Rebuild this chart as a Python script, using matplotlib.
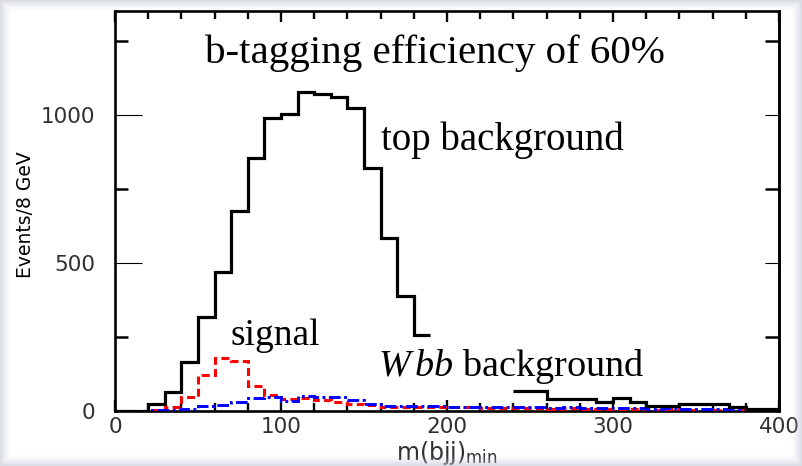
import numpy as np
import matplotlib
matplotlib.use("Agg")
import matplotlib.pyplot as plt
from matplotlib.ticker import FixedLocator, MultipleLocator

nan = np.nan

# Histogram binning in m(bjj)_min [GeV]
bin_edges = np.arange(0, 401, 10)

# Event counts per bin
top_background = [0, 0, 22, 64, 165, 318, 469, 676, 853, 990,
                  1003, 1078, 1072, 1060, 1023, 820, 585, 387, 257, nan,
                  nan, nan, nan, nan, 68, 68, 42, 40, 40, 29,
                  45, 30, 16, 16, 22, 22, 22, 15, 8, 8]
signal = [0, 0, 3, 12, 47, 120, 180, 168, 86, 53,
          40, 45, 38, 32, 25, 19, 14, 14, 15, 13,
          12, 13, 10, 11, 9, 10, 8, 9, 7, 8,
          6, 7, 5, 6, 5, 5, 4, 4, 3, 3]
wbb_background = [1, 1, 2, 3, 8, 18, 20, 30, 45, 46,
                  35, 50, 48, 46, 36, 24, 18, 17, 18, 16,
                  15, 14, 14, 13, 12, 12, 11, 12, 10, 10,
                  9, 10, 8, 9, 7, 8, 7, 6, 6, 5]

x_ticks = [0, 100, 200, 300, 400]
y_ticks = [0, 500, 1000]
y_minor_ticks = [250, 750, 1250]

plt.rcParams["mathtext.fontset"] = "custom"
plt.rcParams["mathtext.rm"] = "Liberation Serif"
plt.rcParams["mathtext.it"] = "Liberation Serif:italic"
plt.rcParams["mathtext.sf"] = "DejaVu Sans"

fig = plt.figure(figsize=(8.02, 4.66), dpi=100)
fig.patch.set_facecolor("white")
ax = fig.add_axes([0.1434, 0.118, 0.828, 0.858])

ax.stairs(np.array(signal, float), bin_edges, baseline=None, color="#ff0000",
          linewidth=2.2, linestyle=(0, (2.6, 1.4)), zorder=3)
ax.stairs(np.array(wbb_background, float), bin_edges, baseline=None, color="#0000ff",
          linewidth=2.1, linestyle=(0, (4.0, 1.2, 1.0, 1.2)), zorder=4)
ax.stairs(np.array(top_background, float), bin_edges, baseline=None, color="black",
          linewidth=2.3, zorder=5)

ax.set_xlim(0, 400)
ax.set_ylim(0, 1350)

for side in ax.spines.values():
    side.set_linewidth(1.9)

ax.xaxis.set_major_locator(FixedLocator(x_ticks))
ax.xaxis.set_minor_locator(MultipleLocator(20))
ax.yaxis.set_major_locator(FixedLocator(y_ticks))
ax.yaxis.set_minor_locator(FixedLocator(y_minor_ticks))

ax.tick_params(axis="x", which="major", direction="in", length=8, width=1.7,
               top=True, bottom=True, labelsize=15.5, pad=4, labelcolor="#303030")
ax.tick_params(axis="x", which="minor", direction="in", length=6, width=1.7,
               top=True, bottom=True)
ax.tick_params(axis="y", which="major", direction="in", length=19.5, width=0.8,
               left=True, right=False, labelsize=15.5, pad=14, labelcolor="#303030")
ax.tick_params(axis="y", which="minor", direction="in", length=9.5, width=1.8,
               left=True, right=False)

right = ax.secondary_yaxis("right")
right.yaxis.set_major_locator(FixedLocator([500, 1000]))
right.yaxis.set_minor_locator(FixedLocator(y_minor_ticks))
right.tick_params(which="major", direction="in", length=10, width=0.8, labelright=False)
right.tick_params(which="minor", direction="in", length=10, width=1.8, labelright=False)
right.spines["right"].set_linewidth(1.9)

ax.set_ylabel("Events/8 GeV", fontsize=13.5, color="black")
ax.yaxis.set_label_coords(-0.12, 0.49)
ax.set_xlabel(r"m(bjj)$_{\mathsf{min}}$", fontsize=17, color="#303030")
ax.xaxis.set_label_coords(0.5, -0.07)

serif = "Liberation Serif"
ax.text(54.2, 1174, "b-tagging efficiency of 60%", family=serif, fontsize=29.5,
        ha="left", va="baseline", zorder=6)
ax.text(160.2, 881, "top background", family=serif, fontsize=28,
        ha="left", va="baseline", zorder=6)
ax.text(69.3, 223, "signal", family=serif, fontsize=27,
        ha="left", va="baseline", zorder=6)
ax.text(158.4, 118, r"$W\,bb$ background", family=serif, fontsize=27.5,
        ha="left", va="baseline", zorder=6)

# soft grey frame around the picture edges
H, W = 466, 802
yy, xx = np.mgrid[0:H, 0:W]
dist = np.minimum(np.minimum(xx, W - 1 - xx), np.minimum(yy, H - 1 - yy)).astype(float)
alpha = np.clip(1.0 - dist / 11.0, 0, 1) ** 1.4 * 0.6
frame = np.zeros((H, W, 4))
frame[..., 0] = 0.76
frame[..., 1] = 0.78
frame[..., 2] = 0.83
frame[..., 3] = alpha
fig.figimage(frame, xo=0, yo=0, origin="upper", zorder=20)

fig.savefig("out.png", dpi=100)
